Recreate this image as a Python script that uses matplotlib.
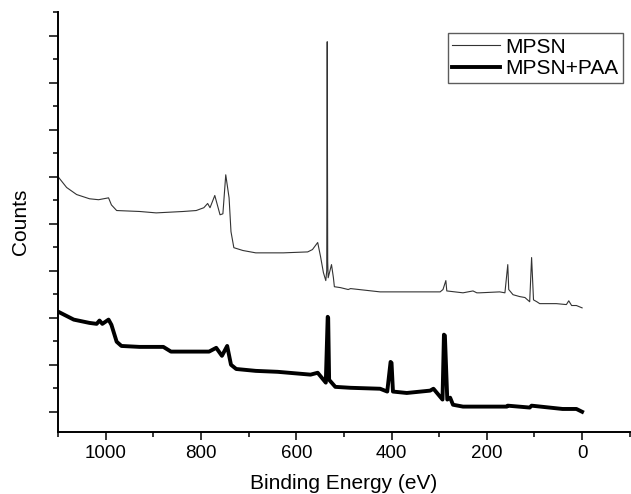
import numpy as np
import matplotlib
matplotlib.use("Agg")
import matplotlib.pyplot as plt
from matplotlib.ticker import MultipleLocator, NullFormatter

plt.rcParams['font.family'] = ['Liberation Sans', 'DejaVu Sans']

# XPS survey spectra (binding energy in eV, counts in arbitrary units)
mpsn_be = [1100, 1082, 1061, 1034, 1015, 994, 988, 977, 929, 894, 837, 810,
           794, 786, 781, 771, 760, 754, 748, 741, 737, 731, 712, 685, 627,
           576, 566, 555, 549, 543, 538, 536, 535, 534, 533, 526, 522, 520,
           507, 491, 486, 424, 340, 298, 292, 286, 284, 250, 229, 221, 215,
           173, 162, 156, 154, 145, 131, 120, 110, 106, 102, 95, 89, 54, 33,
           28, 22, 12, 0]
mpsn_counts = [5.00, 4.77, 4.62, 4.53, 4.51, 4.55, 4.40, 4.28, 4.26, 4.23,
               4.26, 4.28, 4.34, 4.43, 4.34, 4.60, 4.19, 4.21, 5.04, 4.55,
               3.83, 3.49, 3.43, 3.38, 3.38, 3.40, 3.45, 3.60, 3.30, 2.96,
               2.79, 3.00, 7.87, 3.20, 2.85, 3.13, 2.85, 2.66, 2.64, 2.60,
               2.62, 2.55, 2.55, 2.55, 2.60, 2.79, 2.57, 2.53, 2.57, 2.53,
               2.53, 2.55, 2.53, 3.13, 2.60, 2.49, 2.45, 2.43, 2.34, 3.28,
               2.38, 2.34, 2.30, 2.30, 2.28, 2.36, 2.26, 2.26, 2.21]

paa_be = [1100, 1067, 1034, 1019, 1013, 1007, 994, 988, 977, 967, 929, 879,
          863, 825, 783, 768, 756, 745, 737, 726, 685, 639, 570, 555, 538,
          534, 533, 531, 518, 486, 424, 409, 402, 400, 397, 368, 319, 312,
          293, 290, 288, 283, 277, 271, 250, 158, 156, 110, 106, 41, 12, 0]
paa_counts = [2.13, 1.96, 1.89, 1.87, 1.94, 1.87, 1.96, 1.85, 1.49, 1.40,
              1.38, 1.38, 1.28, 1.28, 1.28, 1.36, 1.19, 1.40, 1.00, 0.91,
              0.87, 0.85, 0.79, 0.83, 0.62, 2.02, 2.00, 0.68, 0.53, 0.51,
              0.49, 0.43, 1.06, 1.04, 0.43, 0.40, 0.45, 0.49, 0.26, 1.64,
              1.62, 0.26, 0.30, 0.15, 0.11, 0.11, 0.13, 0.09, 0.13, 0.06,
              0.06, 0.00]

fig = plt.figure(figsize=(6.31, 4.94), dpi=100)
ax = fig.add_axes([0.092, 0.1255, 0.906, 0.85])

ax.plot(mpsn_be, mpsn_counts, color='#333333', lw=0.8, label='MPSN')
ax.plot(paa_be, paa_counts, color='black', lw=2.8, label='MPSN+PAA')

ax.set_xlim(1100, -100)
ax.set_ylim(-0.43, 8.5)

ax.spines['top'].set_visible(False)
ax.spines['right'].set_visible(False)
for s in ('left', 'bottom'):
    ax.spines[s].set_linewidth(1.4)

ax.xaxis.set_major_locator(MultipleLocator(200))
ax.xaxis.set_minor_locator(MultipleLocator(100))
ax.yaxis.set_major_locator(MultipleLocator(1))
ax.yaxis.set_minor_locator(MultipleLocator(0.5))
ax.yaxis.set_major_formatter(NullFormatter())
ax.tick_params(axis='x', which='major', length=6, width=1.1, labelsize=13.5, pad=3)
ax.tick_params(axis='x', which='minor', length=3.5, width=1.1)
ax.tick_params(axis='y', which='major', length=6.5, width=1.1)
ax.tick_params(axis='y', which='minor', length=3.5, width=1.1)

ax.set_xlabel('Binding Energy (eV)', fontsize=15, labelpad=9)
ax.set_ylabel('Counts', fontsize=15, labelpad=10)

leg = ax.legend(loc='upper right', bbox_to_anchor=(623 / 631, 1 - 33 / 494),
                bbox_transform=fig.transFigure, fontsize=15, frameon=True,
                fancybox=False, borderpad=0.22, labelspacing=0.12,
                handlelength=2.3, handletextpad=0.25, borderaxespad=0)
leg.get_frame().set_edgecolor('#333333')
leg.get_frame().set_linewidth(1.0)

fig.savefig('out.png', dpi=100)
